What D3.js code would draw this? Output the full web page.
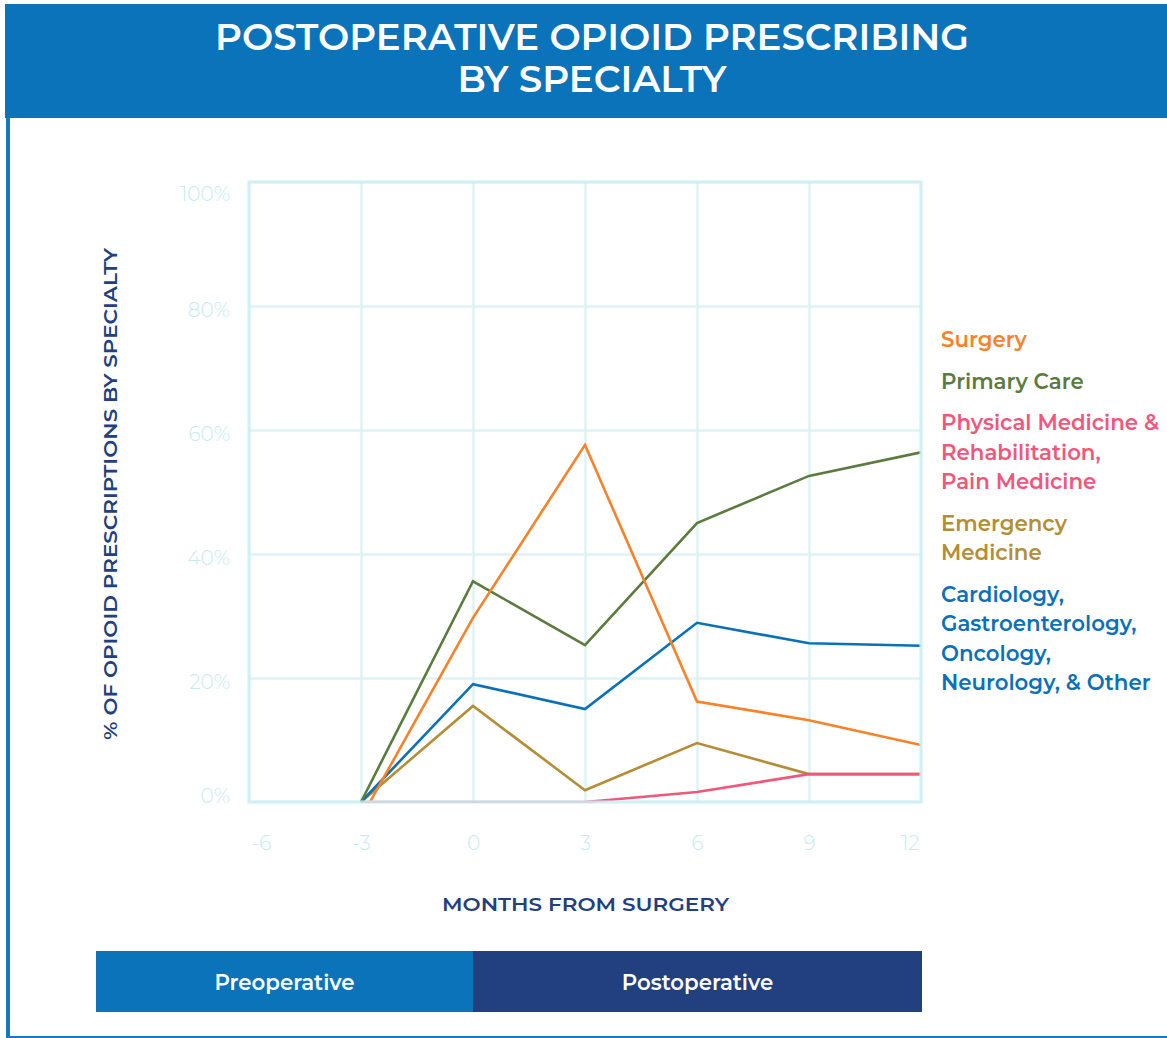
<!DOCTYPE html>
<html>
<head>
<meta charset="utf-8">
<script src="https://cdn.jsdelivr.net/npm/d3@7"></script>
<style>
  body { margin: 0; background: #fff; }
  text { font-family: Montserrat, Inter, "Open Sans", sans-serif; }
</style>
</head>
<body>
<svg id="chart" width="1167" height="1038"></svg>
<script>
// data (percent of opioid prescriptions)
var months = [-3, 0, 3, 6, 9, 12];
var surgery = [-2.6, 29.7, 57.6, 16.2, 13.2, 9.2];
var primaryCare = [0, 35.6, 25.3, 45.0, 52.6, 56.4];
var physMed = [0, 0, 0, 1.6, 4.5, 4.5];
var emergency = [0, 15.5, 1.9, 9.5, 4.5, 4.5];
var cardiology = [0, 19.0, 15.0, 28.9, 25.6, 25.2];

var xTicks = [-6, -3, 0, 3, 6, 9, 12];
var yTicks = [0, 20, 40, 60, 80, 100];
var phases = ["Preoperative", "Postoperative"];

var legendGroups = [
  ["Surgery"],
  ["Primary Care"],
  ["Physical Medicine &", "Rehabilitation,", "Pain Medicine"],
  ["Emergency", "Medicine"],
  ["Cardiology,", "Gastroenterology,", "Oncology,", "Neurology, & Other"]
];

var seriesList = [
  { name: "emergency", values: emergency, color: "#B58D35" },
  { name: "physMed", values: physMed, color: "#F0577B" },
  { name: "cardiology", values: cardiology, color: "#0A70B8" },
  { name: "primaryCare", values: primaryCare, color: "#5B7B3E" },
  { name: "surgery", values: surgery, color: "#F7822A" }
];
var legendColors = ["#F7822A", "#5B7B3E", "#F0577B", "#B58D35", "#0A70B8"];

var blue = "#0A73BA";
var navy = "#223F80";
var gridColor = "#DFF3F6";
var frameColor = "#C9EDF1";
var tickColor = "#C6EBEF";

var svg = d3.select("#chart");

// header + page frame
svg.append("rect").attr("x", 5).attr("y", 4).attr("width", 1162).attr("height", 114).attr("fill", blue);
svg.append("rect").attr("x", 6).attr("y", 118).attr("width", 4).attr("height", 920).attr("fill", "#157ABF");
svg.append("rect").attr("x", 6).attr("y", 1036).attr("width", 1161).attr("height", 2).attr("fill", "#157ABF");

svg.append("text").attr("x", 592).attr("y", 50)
  .attr("text-anchor", "middle").attr("fill", "#fff")
  .attr("font-size", 36).attr("font-weight", 600)
  .attr("textLength", 754).attr("lengthAdjust", "spacingAndGlyphs")
  .text("POSTOPERATIVE OPIOID PRESCRIBING");
svg.append("text").attr("x", 592).attr("y", 92)
  .attr("text-anchor", "middle").attr("fill", "#fff")
  .attr("font-size", 36).attr("font-weight", 600)
  .attr("textLength", 269).attr("lengthAdjust", "spacingAndGlyphs")
  .text("BY SPECIALTY");

// plot area
var plotLeft = 249, plotRight = 921, plotTop = 182, plotBottom = 802;
var x = d3.scaleLinear().domain([-6, 12]).range([plotLeft, plotRight]);
var y = d3.scaleLinear().domain([0, 100]).range([plotBottom, plotTop]);

// gridlines
svg.append("g").attr("transform", "translate(0," + plotBottom + ")")
  .call(d3.axisBottom(x).tickValues([-3, 0, 3, 6, 9]).tickSize(-(plotBottom - plotTop)).tickFormat(""))
  .call(function (g) {
    g.select(".domain").remove();
    g.selectAll("line").attr("stroke", gridColor).attr("stroke-width", 2.5);
  });
svg.append("g").attr("transform", "translate(" + plotLeft + ",0)")
  .call(d3.axisLeft(y).tickValues([20, 40, 60, 80]).tickSize(-(plotRight - plotLeft)).tickFormat(""))
  .call(function (g) {
    g.select(".domain").remove();
    g.selectAll("line").attr("stroke", gridColor).attr("stroke-width", 2.5);
  });

// tick labels
svg.append("g").attr("transform", "translate(" + plotLeft + ",0)")
  .call(d3.axisLeft(y).tickValues(yTicks).tickSize(0).tickPadding(19).tickFormat(function (d) { return d + "%"; }))
  .call(function (g) {
    g.select(".domain").remove();
    g.selectAll("text")
      .attr("fill", tickColor).attr("font-size", 20).attr("font-weight", 300)
      .attr("font-family", "Montserrat, Inter, sans-serif")
      .attr("dy", function (d) { return d == 0 ? "0.02em" : d == 100 ? "0.92em" : "0.52em"; });
  });
svg.append("g").attr("transform", "translate(0," + plotBottom + ")")
  .call(d3.axisBottom(x).tickValues(xTicks).tickSize(0).tickPadding(34).tickFormat(function (d) { return String(d); }))
  .call(function (g) {
    g.select(".domain").remove();
    g.selectAll("text")
      .attr("fill", tickColor).attr("font-size", 20).attr("font-weight", 300)
      .attr("font-family", "Montserrat, Inter, sans-serif")
      .attr("text-anchor", function (d) { return d == -6 ? "start" : d == 12 ? "end" : "middle"; })
      .attr("dx", function (d) { return d == -6 ? 2 : d == 12 ? -2 : 0; });
  });

// lines
svg.append("clipPath").attr("id", "plotclip")
  .append("rect").attr("x", plotLeft).attr("y", plotTop - 2)
  .attr("width", plotRight - plotLeft).attr("height", plotBottom - plotTop + 3);

var line = d3.line()
  .x(function (d, i) { return x(months[i]); })
  .y(function (d) { return y(d); });

svg.append("g").attr("clip-path", "url(#plotclip)")
  .selectAll("path").data(seriesList).join("path")
  .attr("d", function (s) { return line(s.values); })
  .attr("fill", "none")
  .attr("stroke", function (s) { return s.color; })
  .attr("stroke-width", 2.6)
  .attr("stroke-linejoin", "miter");

// plot frame
svg.append("rect").attr("x", plotLeft).attr("y", plotTop)
  .attr("width", plotRight - plotLeft).attr("height", plotBottom - plotTop)
  .attr("fill", "none").attr("stroke", frameColor).attr("stroke-width", 3.2).attr("stroke-opacity", 0.85);

// axis titles
svg.append("text").attr("transform", "translate(117,494) rotate(-90)")
  .attr("text-anchor", "middle").attr("fill", navy)
  .attr("font-size", 19).attr("font-weight", 600)
  .attr("textLength", 492).attr("lengthAdjust", "spacingAndGlyphs")
  .text("% OF OPIOID PRESCRIPTIONS BY SPECIALTY");
svg.append("text").attr("x", 585.5).attr("y", 911)
  .attr("text-anchor", "middle").attr("fill", navy)
  .attr("font-size", 19).attr("font-weight", 600)
  .attr("textLength", 287).attr("lengthAdjust", "spacingAndGlyphs")
  .text("MONTHS FROM SURGERY");

// legend
var ly = 340;
legendGroups.forEach(function (grp, gi) {
  grp.forEach(function (txt, li) {
    svg.append("text").attr("x", 941).attr("y", ly + li * 29.5)
      .attr("dy", "0.35em").attr("fill", legendColors[gi])
      .attr("font-size", 21.3).attr("font-weight", 600)
      .text(txt);
  });
  ly += (grp.length - 1) * 29.5 + 41.5;
});

// phase bars
var barLeft = 96;
var phaseBounds = [[barLeft, x(0)], [x(0), x(12) + 1]];
var phaseColors = [blue, navy];
phases.forEach(function (p, i) {
  var b = phaseBounds[i];
  svg.append("rect").attr("x", b[0]).attr("y", 951).attr("width", b[1] - b[0]).attr("height", 61)
    .attr("fill", phaseColors[i]);
  svg.append("text").attr("x", (b[0] + b[1]) / 2).attr("y", 983).attr("dy", "0.35em")
    .attr("text-anchor", "middle").attr("fill", "#fff")
    .attr("font-size", 21.3).attr("font-weight", 600)
    .text(p);
});
</script>
</body>
</html>
